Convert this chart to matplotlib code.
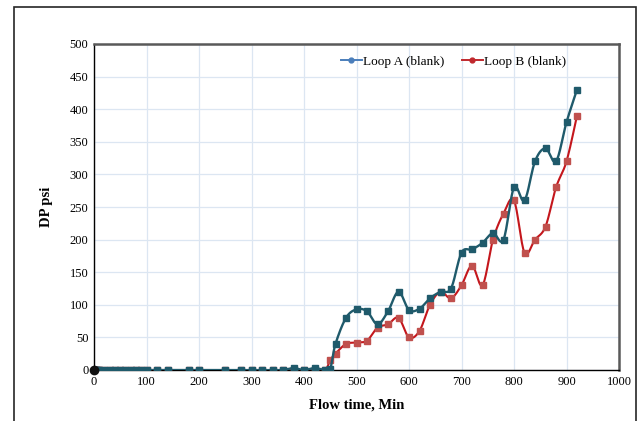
import numpy as np
import matplotlib
matplotlib.use("Agg")
import matplotlib.pyplot as plt
from matplotlib.lines import Line2D
from matplotlib.patches import Rectangle

plt.rcParams['font.family'] = ['Liberation Serif', 'DejaVu Serif']

# Flow time (min) and differential pressure (psi)
time_min = [0, 2, 4, 6, 8, 10, 20, 30, 40, 50, 60, 70, 80, 90, 100, 120, 140,
            180, 200, 250, 280, 300, 320, 340, 360, 380, 400, 420, 440, 450,
            460, 480, 500, 520, 540, 560, 580, 600, 620, 640, 660, 680, 700,
            720, 740, 760, 780, 800, 820, 840, 860, 880, 900, 920]
loop_a = [0, 0, 0, 0, 0, 0, 0, 0, 0, 0, 0, 0, 0, 0, 0, 0, 0,
          0, 0, 0, 0, 0, 0, 0, 0, 3, 0, 3, 0, 2,
          40, 80, 93, 90, 70, 90, 120, 92, 94, 110, 120, 125, 180,
          185, 195, 210, 200, 280, 260, 320, 340, 320, 380, 430]
loop_b = [0, 0, 0, 0, 0, 0, 0, 0, 0, 0, 0, 0, 0, 0, 0, 0, 0,
          0, 0, 0, 0, 0, 0, 0, 0, 0, 0, 0, 0, 15,
          25, 40, 42, 45, 65, 70, 80, 50, 60, 100, 120, 110, 130,
          160, 130, 200, 240, 260, 180, 200, 220, 280, 320, 390]

x_ticks = list(range(0, 1001, 100))
y_ticks = list(range(0, 501, 50))


def smooth(x, y, n=16):
    """Bezier smoothing through every point (Catmull-Rom style control points)."""
    x = np.asarray(x, float)
    y = np.asarray(y, float)
    px = np.concatenate([[x[0]], x, [x[-1]]])
    py = np.concatenate([[y[0]], y, [y[-1]]])
    xs, ys = [], []
    t = np.linspace(0, 1, n, endpoint=False)
    for i in range(1, len(px) - 2):
        p0 = np.array([px[i], py[i]])
        p3 = np.array([px[i + 1], py[i + 1]])
        c1 = p0 + (np.array([px[i + 1], py[i + 1]]) - np.array([px[i - 1], py[i - 1]])) / 6
        c2 = p3 - (np.array([px[i + 2], py[i + 2]]) - np.array([px[i], py[i]])) / 6
        b = ((1 - t) ** 3)[:, None] * p0 + (3 * (1 - t) ** 2 * t)[:, None] * c1 \
            + (3 * (1 - t) * t ** 2)[:, None] * c2 + (t ** 3)[:, None] * p3
        xs.extend(b[:, 0])
        ys.extend(b[:, 1])
    xs.append(x[-1])
    ys.append(y[-1])
    return np.array(xs), np.array(ys)


fig = plt.figure(figsize=(6.42, 4.21), dpi=100)
ax = fig.add_axes([94 / 642, 1 - 370 / 421, 525 / 642, 326 / 421])

col_a_line = '#1f5a6b'
col_b_line = '#c4161c'
col_b_mark = '#c0504d'

sx, sy = smooth(time_min, loop_b)
ax.plot(sx, sy, color=col_b_line, lw=1.5, zorder=3)
ax.plot(time_min, loop_b, ls='none', marker='s', ms=4.5, color=col_b_mark,
        mec=col_b_mark, zorder=4)

sx, sy = smooth(time_min, loop_a)
ax.plot(sx, sy, color=col_a_line, lw=1.7, zorder=5)
ax.plot(time_min, loop_a, ls='none', marker='s', ms=4.5, color=col_a_line,
        mec=col_a_line, zorder=6)
# dense cluster of early readings near t = 0
ax.plot([time_min[0]], [loop_a[0]], ls='none', marker='o', ms=6, color='#111111',
        zorder=7, clip_on=False)

ax.set_xlim(0, 1000)
ax.set_ylim(0, 500)
ax.set_xticks(x_ticks)
ax.set_yticks(y_ticks)
ax.grid(True, color='#dce6f2', lw=0.9)
ax.set_axisbelow(True)
ax.tick_params(length=0, labelsize=9, pad=4, colors='black')

for side in ('left', 'bottom'):
    ax.spines[side].set_color('black')
    ax.spines[side].set_linewidth(1.0)
for side in ('top', 'right'):
    ax.spines[side].set_color('#595959')
    ax.spines[side].set_linewidth(1.8)

ax.set_xlabel('Flow time, Min', fontsize=10.5, fontweight='bold', labelpad=8)
ax.set_ylabel('DP psi', fontsize=10.5, fontweight='bold', labelpad=12)

handles = [
    Line2D([], [], color='#4a7ebb', lw=1.4, marker='o', ms=3.5),
    Line2D([], [], color='#c0282d', lw=1.4, marker='o', ms=3.5),
]
ax.legend(handles, ['Loop A (blank)', 'Loop B (blank)'], loc='upper center',
          bbox_to_anchor=(0.685, 1.0), ncol=2, frameon=False, fontsize=9.5,
          handlelength=1.6, handletextpad=0.1, columnspacing=1.3)

# outer chart border
fig.patches.append(Rectangle((14 / 642, -0.1), 622 / 642, 1.1 - 7.5 / 421,
                             transform=fig.transFigure, fill=False,
                             edgecolor='#262626', lw=1.2))

fig.savefig('out.png', dpi=100)
